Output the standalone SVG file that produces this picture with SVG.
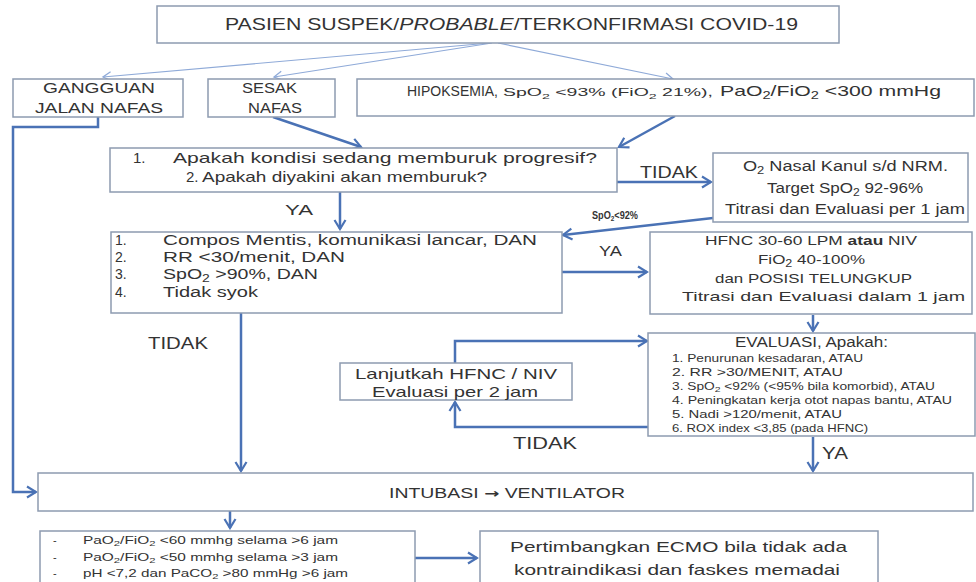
<svg xmlns="http://www.w3.org/2000/svg" width="976" height="582" viewBox="0 0 976 582">
<defs>
<style>
.box{fill:#ffffff;stroke:#8d9bb0;stroke-width:1.5}
.t{font-family:"Liberation Sans","Open Sans",sans-serif;fill:#333333}
.c{stroke:#4a72b5;stroke-width:2.5;fill:none}
.thin{stroke:#8faad8;stroke-width:1.2;fill:none}
</style>
<marker id="ah" viewBox="-12 -7 14 14" markerWidth="14" markerHeight="14" refX="0" refY="0" orient="auto" markerUnits="userSpaceOnUse">
<path d="M-9,-5.5 L0,0 L-9,5.5" fill="none" stroke="#4a72b5" stroke-width="2.2"/>
</marker>
<marker id="ahs" viewBox="-12 -7 14 14" markerWidth="14" markerHeight="14" refX="0" refY="0" orient="auto" markerUnits="userSpaceOnUse">
<path d="M-8,-4.5 L0,0 L-8,4.5" fill="none" stroke="#8faad8" stroke-width="1.3"/>
</marker>
</defs>
<rect width="976" height="582" fill="#ffffff"/>

<g id="connectors">
<path class="thin" d="M490,43 L103,77" marker-end="url(#ahs)"/>
<path class="thin" d="M492,43 L274,77" marker-end="url(#ahs)"/>
<path class="thin" d="M498,43 L673,79" marker-end="url(#ahs)"/>
<path class="c" d="M273,117 L361,147" marker-end="url(#ah)"/>
<path class="c" d="M675,116 L619,147" marker-end="url(#ah)"/>
<path class="c" d="M617,182 L711,182" marker-end="url(#ah)"/>
<path class="c" d="M713,218 L563,235" marker-end="url(#ah)"/>
<path class="c" d="M340,192 L340,229" marker-end="url(#ah)"/>
<path class="c" d="M560,272 L647,272" marker-end="url(#ah)"/>
<path class="c" d="M813,315 L813,331" marker-end="url(#ah)"/>
<path class="c" d="M455,363 V341 H647" marker-end="url(#ah)"/>
<path class="c" d="M650,427 H455 V402" marker-end="url(#ah)"/>
<path class="c" d="M813,437 L813,471" marker-end="url(#ah)"/>
<path class="c" d="M241,313 L241,471" marker-end="url(#ah)"/>
<path class="c" d="M98,117 V127 H13 V492 H36" marker-end="url(#ah)"/>
<path class="c" d="M230,511 L230,528" marker-end="url(#ah)"/>
<path class="c" d="M415,558 L477,558" marker-end="url(#ah)"/>
</g>

<g id="n-pasien">
<rect class="box" x="157" y="6" width="682" height="37"/>
<text class="t" x="225" y="30" font-size="17" textLength="573" lengthAdjust="spacingAndGlyphs">PASIEN SUSPEK/<tspan font-style="italic">PROBABLE</tspan>/TERKONFIRMASI COVID-19</text>
</g>

<g id="n-gangguan">
<rect class="box" x="13" y="79" width="170" height="38"/>
<text class="t" x="43" y="93" font-size="14" textLength="112" lengthAdjust="spacingAndGlyphs">GANGGUAN</text>
<text class="t" x="35" y="113" font-size="14" textLength="128" lengthAdjust="spacingAndGlyphs">JALAN NAFAS</text>
</g>

<g id="n-sesak">
<rect class="box" x="208" y="79" width="127" height="38"/>
<text class="t" x="242" y="93" font-size="14" textLength="55" lengthAdjust="spacingAndGlyphs">SESAK</text>
<text class="t" x="248" y="113" font-size="14" textLength="54" lengthAdjust="spacingAndGlyphs">NAFAS</text>
</g>

<g id="n-hipoksemia">
<rect class="box" x="357" y="79" width="617" height="37"/>
<text class="t" x="407" y="96" font-size="14.5" textLength="91" lengthAdjust="spacingAndGlyphs">HIPOKSEMIA,</text>
<text class="t" x="503" y="96" font-size="11" textLength="210" lengthAdjust="spacingAndGlyphs">SpO<tspan dy="2.5" font-size="8">2</tspan><tspan dy="-2.5"> &lt;93% (FiO</tspan><tspan dy="2.5" font-size="8">2</tspan><tspan dy="-2.5"> 21%),</tspan></text>
<text class="t" x="720" y="96" font-size="14.5" textLength="221" lengthAdjust="spacingAndGlyphs">PaO<tspan dy="3" font-size="10">2</tspan><tspan dy="-3">/FiO</tspan><tspan dy="3" font-size="10">2</tspan><tspan dy="-3"> &lt;300 mmHg</tspan></text>
</g>

<g id="n-pertanyaan">
<rect class="box" x="110" y="148" width="507" height="44"/>
<text class="t" x="133" y="163" font-size="15">1.</text>
<text class="t" x="173" y="163" font-size="15" textLength="424" lengthAdjust="spacingAndGlyphs">Apakah kondisi sedang memburuk progresif?</text>
<text class="t" x="186" y="182" font-size="15">2.</text>
<text class="t" x="202" y="182" font-size="15" textLength="285" lengthAdjust="spacingAndGlyphs">Apakah diyakini akan memburuk?</text>
</g>

<g id="n-o2">
<rect class="box" x="713" y="153" width="255" height="69"/>
<text class="t" x="743" y="171" font-size="14" textLength="205" lengthAdjust="spacingAndGlyphs">O<tspan dy="3" font-size="10">2</tspan><tspan dy="-3"> Nasal Kanul s/d NRM.</tspan></text>
<text class="t" x="767" y="193" font-size="14" textLength="156" lengthAdjust="spacingAndGlyphs">Target SpO<tspan dy="3" font-size="10">2</tspan><tspan dy="-3"> 92-96%</tspan></text>
<text class="t" x="725" y="214" font-size="14" textLength="240" lengthAdjust="spacingAndGlyphs">Titrasi dan Evaluasi per 1 jam</text>
</g>

<g id="n-kriteria">
<rect class="box" x="111" y="232" width="451" height="81"/>
<text class="t" x="115" y="245" font-size="14">1.</text>
<text class="t" x="163" y="245" font-size="14" textLength="374" lengthAdjust="spacingAndGlyphs">Compos Mentis, komunikasi lancar, DAN</text>
<text class="t" x="115" y="262" font-size="14">2.</text>
<text class="t" x="163" y="262" font-size="14" textLength="182" lengthAdjust="spacingAndGlyphs">RR &lt;30/menit, DAN</text>
<text class="t" x="115" y="279" font-size="14">3.</text>
<text class="t" x="163" y="279" font-size="14" textLength="155" lengthAdjust="spacingAndGlyphs">SpO<tspan dy="3" font-size="10">2</tspan><tspan dy="-3"> &gt;90%, DAN</tspan></text>
<text class="t" x="115" y="297" font-size="14">4.</text>
<text class="t" x="163" y="297" font-size="14" textLength="95" lengthAdjust="spacingAndGlyphs">Tidak syok</text>
</g>

<g id="n-hfnc">
<rect class="box" x="650" y="232" width="322" height="82"/>
<text class="t" x="705" y="245" font-size="13.5" textLength="212" lengthAdjust="spacingAndGlyphs">HFNC 30-60 LPM <tspan font-weight="bold">atau</tspan> NIV</text>
<text class="t" x="758" y="264" font-size="13.5" textLength="107" lengthAdjust="spacingAndGlyphs">FiO<tspan dy="3" font-size="10">2</tspan><tspan dy="-3"> 40-100%</tspan></text>
<text class="t" x="715" y="283" font-size="13.5" textLength="197" lengthAdjust="spacingAndGlyphs">dan POSISI TELUNGKUP</text>
<text class="t" x="682" y="301" font-size="13.5" textLength="283" lengthAdjust="spacingAndGlyphs">Titrasi dan Evaluasi dalam 1 jam</text>
</g>

<g id="n-evaluasi">
<rect class="box" x="648" y="333" width="327" height="103"/>
<text class="t" x="735" y="347" font-size="14" textLength="153" lengthAdjust="spacingAndGlyphs">EVALUASI, Apakah:</text>
<text class="t" x="672" y="362" font-size="10.5" textLength="191" lengthAdjust="spacingAndGlyphs">1.  Penurunan kesadaran, ATAU</text>
<text class="t" x="672" y="376" font-size="10.5" textLength="171" lengthAdjust="spacingAndGlyphs">2.  RR &gt;30/MENIT, ATAU</text>
<text class="t" x="672" y="390" font-size="10.5" textLength="263" lengthAdjust="spacingAndGlyphs">3.  SpO<tspan dy="2" font-size="8">2</tspan><tspan dy="-2"> &lt;92% (&lt;95% bila komorbid), ATAU</tspan></text>
<text class="t" x="672" y="404" font-size="10.5" textLength="280" lengthAdjust="spacingAndGlyphs">4.  Peningkatan kerja otot napas bantu, ATAU</text>
<text class="t" x="672" y="418" font-size="10.5" textLength="170" lengthAdjust="spacingAndGlyphs">5.  Nadi &gt;120/menit, ATAU</text>
<text class="t" x="672" y="432" font-size="10.5" textLength="196" lengthAdjust="spacingAndGlyphs">6.  ROX index &lt;3,85 (pada HFNC)</text>
</g>

<g id="n-lanjutkan">
<rect class="box" x="340" y="363" width="232" height="37"/>
<text class="t" x="355" y="379" font-size="15" textLength="202" lengthAdjust="spacingAndGlyphs">Lanjutkah HFNC / NIV</text>
<text class="t" x="372" y="397" font-size="15" textLength="166" lengthAdjust="spacingAndGlyphs">Evaluasi per 2 jam</text>
</g>

<g id="n-intubasi">
<rect class="box" x="38" y="473" width="935" height="38"/>
<text class="t" x="389" y="498" font-size="14" textLength="236" lengthAdjust="spacingAndGlyphs">INTUBASI <tspan font-family="DejaVu Sans, sans-serif" font-weight="bold" font-size="13">→</tspan> VENTILATOR</text>
</g>

<g id="n-kriteria-ecmo">
<rect class="box" x="40" y="531" width="375" height="56"/>
<text class="t" x="53" y="544" font-size="11">-</text>
<text class="t" x="83" y="544" font-size="11" textLength="255" lengthAdjust="spacingAndGlyphs">PaO<tspan dy="2" font-size="8">2</tspan><tspan dy="-2">/FiO</tspan><tspan dy="2" font-size="8">2</tspan><tspan dy="-2"> &lt;60 mmhg selama &gt;6 jam</tspan></text>
<text class="t" x="53" y="561" font-size="11">-</text>
<text class="t" x="83" y="561" font-size="11" textLength="255" lengthAdjust="spacingAndGlyphs">PaO<tspan dy="2" font-size="8">2</tspan><tspan dy="-2">/FiO</tspan><tspan dy="2" font-size="8">2</tspan><tspan dy="-2"> &lt;50 mmhg selama &gt;3 jam</tspan></text>
<text class="t" x="53" y="577" font-size="11">-</text>
<text class="t" x="83" y="577" font-size="11" textLength="265" lengthAdjust="spacingAndGlyphs">pH &lt;7,2 dan PaCO<tspan dy="2" font-size="8">2</tspan><tspan dy="-2"> &gt;80 mmHg &gt;6 jam</tspan></text>
</g>

<g id="n-ecmo">
<rect class="box" x="480" y="531" width="398" height="56"/>
<text class="t" x="510" y="552" font-size="15" textLength="337" lengthAdjust="spacingAndGlyphs">Pertimbangkan ECMO bila tidak ada</text>
<text class="t" x="514" y="575" font-size="15" textLength="326" lengthAdjust="spacingAndGlyphs">kontraindikasi dan faskes memadai</text>
</g>

<g id="labels">
<text class="t" x="640" y="178" font-size="17" textLength="58" lengthAdjust="spacingAndGlyphs">TIDAK</text>
<text class="t" x="592" y="219" font-size="10" font-weight="bold" textLength="46" lengthAdjust="spacingAndGlyphs">SpO<tspan dy="2" font-size="7">2</tspan><tspan dy="-2">&lt;92%</tspan></text>
<text class="t" x="285" y="215" font-size="15" textLength="28" lengthAdjust="spacingAndGlyphs">YA</text>
<text class="t" x="599" y="256" font-size="15" textLength="23" lengthAdjust="spacingAndGlyphs">YA</text>
<text class="t" x="148" y="349" font-size="17" textLength="60" lengthAdjust="spacingAndGlyphs">TIDAK</text>
<text class="t" x="513" y="449" font-size="17" textLength="64" lengthAdjust="spacingAndGlyphs">TIDAK</text>
<text class="t" x="822" y="459" font-size="16" textLength="26" lengthAdjust="spacingAndGlyphs">YA</text>
</g>
</svg>
